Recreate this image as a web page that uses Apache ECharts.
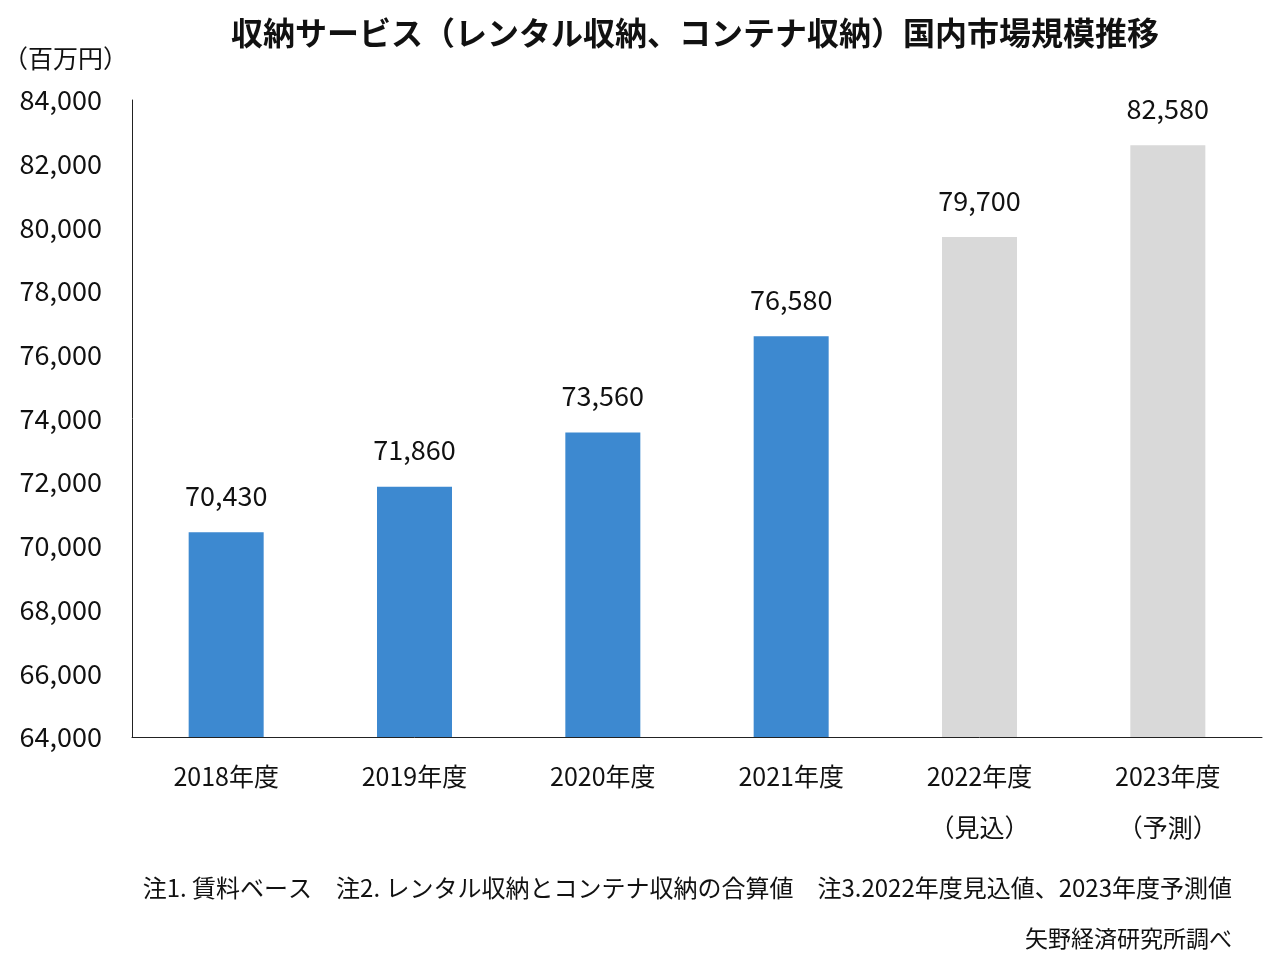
<!DOCTYPE html>
<html><head><meta charset="utf-8">
<script src="https://cdn.jsdelivr.net/npm/echarts@6/dist/echarts.min.js"></script>
<style>html,body{margin:0;padding:0;background:#fff}#c{width:1280px;height:968px}</style>
</head><body><div id="c"></div>
<script>
const categories = ['2018年度','2019年度','2020年度','2021年度','2022年度','2023年度'];
const subLabels = ['','','','','（見込）','（予測）'];
const values = [70430, 71860, 73560, 76580, 79700, 82580];
const isActual = [true, true, true, true, false, false];
const yTicks = [64000, 84000, 2000];
const titleText = '収納サービス（レンタル収納、コンテナ収納）国内市場規模推移';
const unitText = '（百万円）';
const noteText = '注1. 賃料ベース　注2. レンタル収納とコンテナ収納の合算値　注3.2022年度見込値、2023年度予測値';
const sourceText = '矢野経済研究所調べ';

const FONT = '"Noto Sans CJK JP", "Noto Sans", sans-serif';
const fmt = v => v.toLocaleString('en-US');
const chart = echarts.init(document.getElementById('c'));
chart.setOption({
  backgroundColor: '#fff',
  textStyle: { fontFamily: FONT, color: '#111' },
  title: [
    { text: titleText, left: 690, top: 12, textAlign: 'center',
      textStyle: { fontFamily: FONT, fontSize: 32, fontWeight: 'bold', color: '#111' } },
    { text: unitText, left: -2, top: 41,
      textStyle: { fontFamily: FONT, fontSize: 25, fontWeight: 'normal', color: '#111' } },
    { text: noteText, right: 43, top: 871,
      textStyle: { fontFamily: FONT, fontSize: 24, fontWeight: 'normal', color: '#111' } },
    { text: sourceText, right: 43, top: 922,
      textStyle: { fontFamily: FONT, fontSize: 23, fontWeight: 'normal', color: '#111' } }
  ],
  grid: { left: 132, right: 18, top: 100, bottom: 231, containLabel: false },
  xAxis: {
    type: 'category', data: categories,
    axisLine: { show: true, lineStyle: { color: '#222', width: 1 } },
    axisTick: { show: false },
    axisLabel: {
      margin: 14, fontSize: 25, color: '#111', fontFamily: FONT, lineHeight: 51,
      formatter: (v, i) => subLabels[i] ? v + '\n' + subLabels[i] : v
    }
  },
  yAxis: {
    type: 'value', min: yTicks[0], max: yTicks[1], interval: yTicks[2],
    axisLine: { show: true, lineStyle: { color: '#222', width: 1 } },
    axisTick: { show: false },
    splitLine: { show: false },
    axisLabel: { margin: 30, fontSize: 27, color: '#111', fontFamily: FONT, formatter: v => fmt(v) }
  },
  series: [{
    type: 'bar', barWidth: 75,
    data: values.map((v, i) => ({ value: v, itemStyle: { color: isActual[i] ? '#3d89d0' : '#d9d9d9' } })),
    label: { show: true, position: 'top', distance: 23, fontSize: 27, color: '#111', fontFamily: FONT,
      formatter: p => fmt(p.value) }
  }]
});
</script></body></html>
